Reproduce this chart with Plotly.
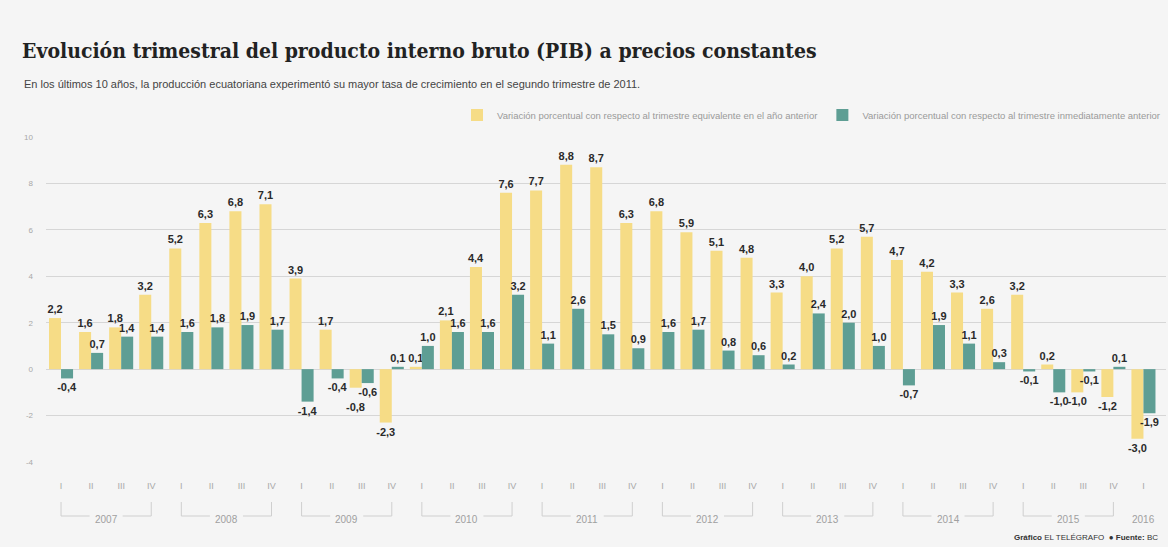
import plotly.graph_objects as go

years = ["2007", "2008", "2009", "2010", "2011", "2012", "2013", "2014", "2015", "2016"]
quarters = ["I", "II", "III", "IV"]
# 2007-I .. 2016-I
interanual = [2.2, 1.6, 1.8, 3.2,
              5.2, 6.3, 6.8, 7.1,
              3.9, 1.7, -0.8, -2.3,
              0.1, 2.1, 4.4, 7.6,
              7.7, 8.8, 8.7, 6.3,
              6.8, 5.9, 5.1, 4.8,
              3.3, 4.0, 5.2, 5.7,
              4.7, 4.2, 3.3, 2.6,
              3.2, 0.2, -1.0, -1.2,
              -3.0]
trimestral = [-0.4, 0.7, 1.4, 1.4,
              1.6, 1.8, 1.9, 1.7,
              -1.4, -0.4, -0.6, 0.1,
              1.0, 1.6, 1.6, 3.2,
              1.1, 2.6, 1.5, 0.9,
              1.6, 1.7, 0.8, 0.6,
              0.2, 2.4, 2.0, 1.0,
              -0.7, 1.9, 1.1, 0.3,
              -0.1, -1.0, -0.1, 0.1,
              -1.9]
y_ticks = [-4, -2, 0, 2, 4, 6, 8, 10]

name_a = "Variación porcentual con respecto al trimestre equivalente en el año anterior"
name_b = "Variación porcentual con respecto al trimestre inmediatamente anterior"

n = len(interanual)
xs = list(range(n))
qlabels = [quarters[i % 4] for i in xs]

def fmt(v):
    return f"{v:.1f}".replace(".", ",")

# labels drawn lower (as in the original) to avoid clashing with the neighbour label
lowered = {10}

YELLOW = "#F6DC86"
TEAL = "#5E9E94"
BG = "#F5F5F5"
SANS = "Liberation Sans, Arial, sans-serif"
LABEL_FONT = dict(family=SANS, size=11, color="#2a2a2a", weight="bold")

text_a = ["" if i in lowered else fmt(v) for i, v in enumerate(interanual)]

fig = go.Figure()
fig.add_trace(go.Bar(x=xs, y=interanual, name=name_a, marker=dict(color=YELLOW, line=dict(width=0)),
                     text=text_a, textposition="outside",
                     textfont=LABEL_FONT, cliponaxis=False, constraintext="none"))
fig.add_trace(go.Bar(x=xs, y=trimestral, name=name_b, marker=dict(color=TEAL, line=dict(width=0)),
                     text=[fmt(v) for v in trimestral], textposition="outside",
                     textfont=LABEL_FONT, cliponaxis=False, constraintext="none"))

W, H = 1168, 547
ML, MR, MT, MB = 46, 2, 137, 85
plot_h = H - MT - MB

def py(px):
    return (H - MB - px) / plot_h

shapes = []
annotations = []
for i in lowered:
    annotations.append(dict(x=i - 0.2, y=interanual[i], xref="x", yref="y", text=fmt(interanual[i]),
                            showarrow=False, xanchor="center", yanchor="top", yshift=-11,
                            font=LABEL_FONT))

line_style = dict(color="#cfcfcf", width=1)
for yi, yr in enumerate(years):
    idx = [i for i in xs if i // 4 == yi]
    center = sum(idx) / len(idx)
    annotations.append(dict(x=center, y=py(519), xref="x", yref="paper", text=yr, showarrow=False,
                            font=dict(family=SANS, size=10, color="#a0a0a0"), xanchor="center", yanchor="middle"))
    if len(idx) == 4:
        x0, x1 = idx[0], idx[-1]
        gap = 0.55
        shapes += [
            dict(type="line", xref="x", yref="paper", x0=x0, x1=x0, y0=py(502), y1=py(516), line=line_style),
            dict(type="line", xref="x", yref="paper", x0=x1, x1=x1, y0=py(502), y1=py(516), line=line_style),
            dict(type="line", xref="x", yref="paper", x0=x0, x1=center - gap, y0=py(516), y1=py(516), line=line_style),
            dict(type="line", xref="x", yref="paper", x0=center + gap, x1=x1, y0=py(516), y1=py(516), line=line_style),
        ]

plot_w = W - ML - MR
def pxx(px):
    return (px - ML) / plot_w

annotations.append(dict(x=pxx(22), y=py(84), xref="paper", yref="paper", xanchor="left", yanchor="middle",
                        showarrow=False,
                        text="En los últimos 10 años, la producción ecuatoriana experimentó su mayor tasa de crecimiento en el segundo trimestre de 2011.",
                        font=dict(family=SANS, size=11, color="#444444")))
annotations.append(dict(x=pxx(1012), y=py(537), xref="paper", yref="paper", xanchor="left", yanchor="middle",
                        showarrow=False,
                        text="<b>Gráfico</b> EL TELÉGRAFO  <b>● Fuente:</b> BC",
                        font=dict(family=SANS, size=8, color="#333333")))

fig.update_layout(
    width=W, height=H,
    margin=dict(l=ML, r=MR, t=MT, b=MB),
    paper_bgcolor=BG, plot_bgcolor=BG,
    barmode="group", bargap=0.2, bargroupgap=0,
    title=dict(text="<b>Evolución trimestral del producto interno bruto (PIB) a precios constantes</b>",
               xref="container", yref="container", x=22 / W, y=1 - 51 / H, xanchor="left", yanchor="middle",
               font=dict(family="DejaVu Serif Condensed, DejaVu Serif, serif", size=21, color="#222222")),
    legend=dict(orientation="h", x=1, xanchor="right", y=py(115), yanchor="middle",
                font=dict(family=SANS, size=9.5, color="#9a9a9a"), bgcolor="rgba(0,0,0,0)",
                traceorder="normal"),
    xaxis=dict(range=[-0.5, 36.75], tickvals=xs, ticktext=qlabels, showgrid=False, zeroline=False,
               showline=False, ticks="", ticklabelstandoff=17,
               tickfont=dict(family=SANS, size=9, color="#a8a8a8")),
    yaxis=dict(range=[-4, 10], tickvals=y_ticks, ticktext=[str(v) for v in y_ticks],
               showgrid=True, gridcolor="#d6d6d6", gridwidth=1, zeroline=True, zerolinecolor="#d6d6d6",
               zerolinewidth=1, showline=False, ticks="", ticklabelstandoff=12,
               tickfont=dict(family=SANS, size=8, color="#a8a8a8")),
    shapes=shapes, annotations=annotations,
    showlegend=True,
)

fig.write_html("out.html", config={"displayModeBar": False},
               post_script="document.body.style.margin='0px';document.body.style.background='%s';" % BG)
